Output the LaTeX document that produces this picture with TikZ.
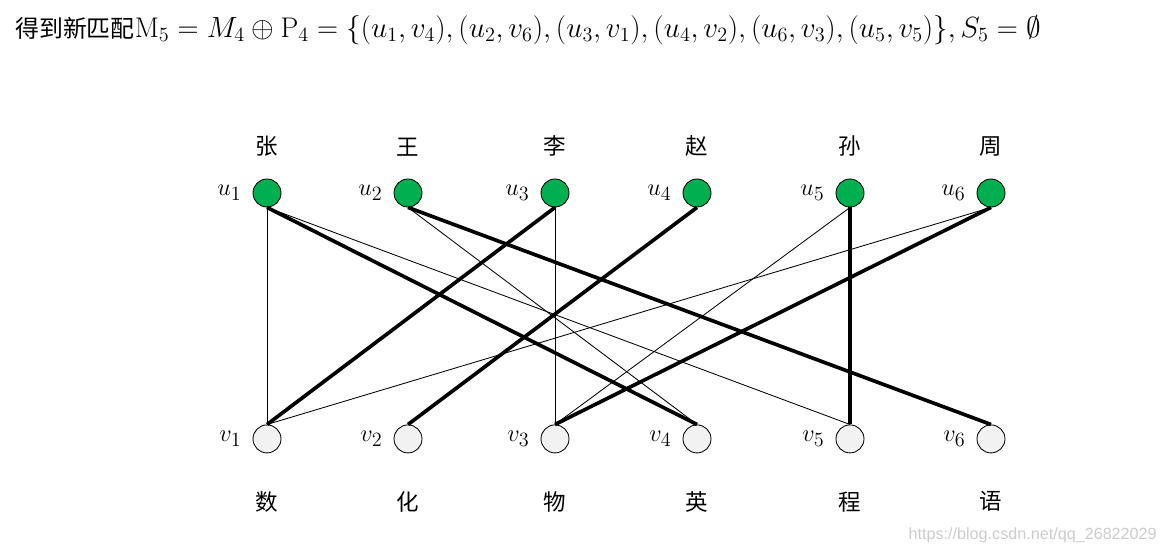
\documentclass[tikz,border=0pt]{standalone}
\usepackage{xcolor}
\usepackage{amsmath,amssymb}
\usepackage{fontspec}
\newfontfamily\cjk{Noto Sans CJK SC}
\newfontfamily\wmfont{Liberation Sans}
\usepackage{tikz}
\usetikzlibrary{positioning}
\definecolor{knotengruen}{RGB}{0,176,80}
\definecolor{knotengrau}{RGB}{242,242,242}
\tikzset{
  person/.style={circle, draw=black, line width=0.6pt, minimum size=0.7cm, inner sep=0pt, fill=knotengruen},
  fach/.style={person, fill=knotengrau},
  indexlabel/.style={font=\fontsize{19}{21}\selectfont, inner sep=0pt},
  namelabel/.style={font=\cjk\fontsize{16}{18}\selectfont, inner sep=0pt},
  kante/.style={draw=black, line width=0.6pt},
  matchkante/.style={draw=black, line width=2.6pt}
}
\newcommand{\titelfont}{\fontsize{17}{20}\selectfont}
\newcommand{\formelfont}{\fontsize{20.2}{24}\selectfont}

\begin{document}
\begin{tikzpicture}[x=0.025cm, y=-0.025cm, node distance=5.425cm]
\useasboundingbox (0,0) rectangle (1166,552);

\node[anchor=west, inner sep=0pt, font=\titelfont] (titel) at (15,30) {{\cjk 得到新匹配}{\formelfont$\mathrm{M}_5=M_4\oplus\mathrm{P}_4=\{(u_1,v_4),(u_2,v_6),(u_3,v_1),(u_4,v_2),(u_6,v_3),(u_5,v_5)\},S_5=\emptyset$}};

\node[person] (u1) at (267,193) {};
\node[person] (u2) at (408,193) {};
\node[person] (u3) at (555,193) {};
\node[person] (u4) at (697,193) {};
\node[person] (u5) at (850,193) {};
\node[person] (u6) at (991,193) {};

\node[fach, below=of u1] (v1) {};
\node[fach, below=of u2] (v2) {};
\node[fach, below=of u3] (v3) {};
\node[fach, below=of u4] (v4) {};
\node[fach, below=of u5] (v5) {};
\node[fach, below=of u6] (v6) {};

\node[indexlabel, left=0.27cm of u1] (lu1) {$u_1$};
\node[indexlabel, left=0.27cm of u2] (lu2) {$u_2$};
\node[indexlabel, left=0.27cm of u3] (lu3) {$u_3$};
\node[indexlabel, left=0.27cm of u4] (lu4) {$u_4$};
\node[indexlabel, left=0.27cm of u5] (lu5) {$u_5$};
\node[indexlabel, left=0.27cm of u6] (lu6) {$u_6$};
\node[indexlabel, left=0.27cm of v1] (lv1) {$v_1$};
\node[indexlabel, left=0.27cm of v2] (lv2) {$v_2$};
\node[indexlabel, left=0.27cm of v3] (lv3) {$v_3$};
\node[indexlabel, left=0.27cm of v4] (lv4) {$v_4$};
\node[indexlabel, left=0.27cm of v5] (lv5) {$v_5$};
\node[indexlabel, left=0.27cm of v6] (lv6) {$v_6$};

\node[namelabel, above=0.55cm of u1] (n1) {张};
\node[namelabel, above=0.55cm of u2] (n2) {王};
\node[namelabel, above=0.55cm of u3] (n3) {李};
\node[namelabel, above=0.55cm of u4] (n4) {赵};
\node[namelabel, above=0.55cm of u5] (n5) {孙};
\node[namelabel, above=0.55cm of u6] (n6) {周};

\node[namelabel, below=0.95cm of v1] (f1) {数};
\node[namelabel, below=0.95cm of v2] (f2) {化};
\node[namelabel, below=0.95cm of v3] (f3) {物};
\node[namelabel, below=0.95cm of v4] (f4) {英};
\node[namelabel, below=0.95cm of v5] (f5) {程};
\node[namelabel, below=0.95cm of v6] (f6) {语};

\node[anchor=east, inner sep=0pt, text=black!20, font=\wmfont\fontsize{11.5}{13}\selectfont] (wm) at (1157,535) {https://blog.csdn.net/qq\_26822029};

\draw[kante] (u1.south) -- (v1.north);
\draw[kante] (u1.south) -- (v5.north);
\draw[kante] (u2.south) -- (v4.north);
\draw[kante] (u3.south) -- (v3.north);
\draw[kante] (u5.south) -- (v3.north);
\draw[kante] (u6.south) -- (v1.north);
\draw[matchkante] (u1.south) -- (v4.north);
\draw[matchkante] (u2.south) -- (v6.north);
\draw[matchkante] (u3.south) -- (v1.north);
\draw[matchkante] (u4.south) -- (v2.north);
\draw[matchkante] (u5.south) -- (v5.north);
\draw[matchkante] (u6.south) -- (v3.north);

\end{tikzpicture}
\end{document}
